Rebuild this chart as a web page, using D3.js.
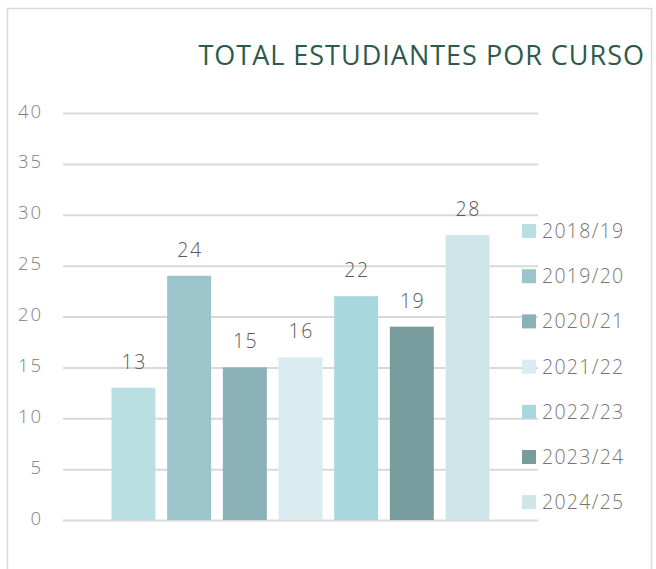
<!DOCTYPE html>
<html>
<head>
<meta charset="utf-8">
<script src="https://cdn.jsdelivr.net/npm/d3@7"></script>
<style>
  html, body { margin: 0; padding: 0; background: #fff; }
  svg { display: block; }
  text { font-family: "Open Sans", Lato, sans-serif; font-weight: 300; }
</style>
</head>
<body>
<svg id="chart" width="656" height="569"></svg>
<script>
// Students per academic year
const cursos = ["2018/19", "2019/20", "2020/21", "2021/22", "2022/23", "2023/24", "2024/25"];
const estudiantes = [13, 24, 15, 16, 22, 19, 28];
const colores = ["#BADFE2", "#9BC5CA", "#8AB1B5", "#DAECEF", "#A8D8DD", "#789B9E", "#CEE6EA"];
const yTicks = [0, 5, 10, 15, 20, 25, 30, 35, 40];
const titulo = "TOTAL ESTUDIANTES POR CURSO";

const svg = d3.select("#chart");

// outer frame
svg.append("path")
  .attr("d", "M7.5,569 V8.5 H651.5 V569")
  .attr("fill", "none")
  .attr("stroke", "#d9d9d9")
  .attr("stroke-width", 1.5);

const plot = { left: 63, right: 538, top: 113, bottom: 520 };

const y = d3.scaleLinear().domain([0, 40]).range([plot.bottom, plot.top]);

const groupW = 378;
const cx = (plot.left + plot.right) / 2;
const x = d3.scaleBand()
  .domain(cursos)
  .range([cx - groupW / 2, cx + groupW / 2])
  .paddingInner(0.21)
  .paddingOuter(0);

// gridlines and tick labels
const yAxis = d3.axisLeft(y).tickValues(yTicks).tickSize(-(plot.right - plot.left)).tickPadding(20);
const gy = svg.append("g")
  .attr("transform", `translate(${plot.left},0)`)
  .call(yAxis);
gy.select(".domain").remove();
gy.selectAll(".tick line").attr("stroke", "#d9d9d9").attr("stroke-width", 2);
gy.selectAll(".tick text")
  .attr("fill", "#808080")
  .attr("font-size", 18.5)
  .style("font-family", "'Open Sans', sans-serif")
  .style("font-weight", 300)
  .style("letter-spacing", "2px")
  .attr("dy", "0.22em");

// bars
svg.append("g").selectAll("rect")
  .data(cursos)
  .join("rect")
  .attr("x", d => x(d))
  .attr("width", x.bandwidth())
  .attr("y", (d, i) => y(estudiantes[i]))
  .attr("height", (d, i) => y(0) - y(estudiantes[i]))
  .attr("fill", (d, i) => colores[i]);

// value labels
svg.append("g").selectAll("text")
  .data(cursos)
  .join("text")
  .attr("x", d => x(d) + x.bandwidth() / 2 + 0.8)
  .attr("y", (d, i) => y(estudiantes[i]) - 19)
  .attr("text-anchor", "middle")
  .attr("fill", "#595959")
  .attr("font-size", 19.5)
  .style("letter-spacing", "1.6px")
  .text((d, i) => estudiantes[i]);

// legend
const legend = svg.append("g").selectAll("g")
  .data(cursos)
  .join("g")
  .attr("transform", (d, i) => `translate(522,${231 + i * 45.2})`);
legend.append("rect")
  .attr("x", 0).attr("y", -7)
  .attr("width", 14).attr("height", 14)
  .attr("fill", (d, i) => colores[i]);
legend.append("text")
  .attr("x", 20)
  .attr("y", 7)
  .attr("fill", "#767676")
  .attr("font-size", 19.5)
  .style("letter-spacing", "1.3px")
  .text(d => d);

// title
svg.append("text")
  .attr("x", 645)
  .attr("y", 65)
  .attr("text-anchor", "end")
  .attr("fill", "#2C5B4B")
  .attr("font-size", 27)
  .style("font-weight", 400)
  .style("letter-spacing", "1.0px")
  .text(titulo);
</script>
</body>
</html>
